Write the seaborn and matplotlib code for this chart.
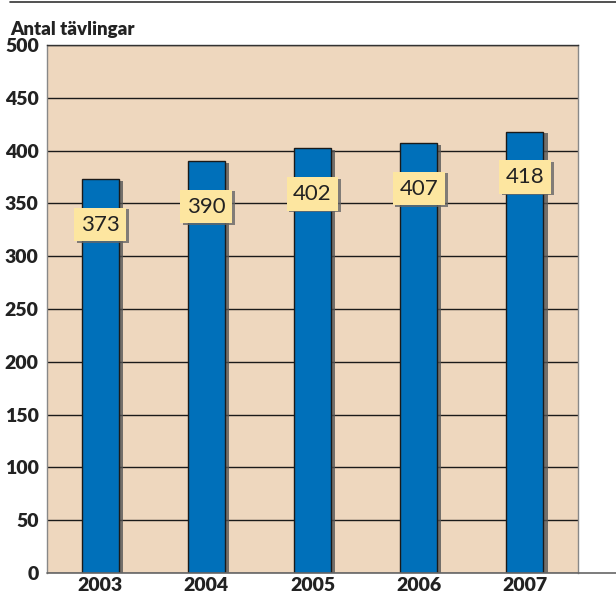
import matplotlib
matplotlib.use('Agg')
import matplotlib.pyplot as plt
import matplotlib.patheffects as pe
from matplotlib.lines import Line2D
from matplotlib.ticker import FixedLocator
import seaborn as sns
import pandas as pd

# data
years = ['2003', '2004', '2005', '2006', '2007']
counts = [373, 390, 402, 407, 418]
y_ticks = [0, 50, 100, 150, 200, 250, 300, 350, 400, 450, 500]

df = pd.DataFrame({'year': years, 'count': counts})

sns.set_style('white')
plt.rcParams['font.family'] = ['Lato', 'DejaVu Sans']

fig = plt.figure(figsize=(6.16, 5.96), dpi=100)
ax = fig.add_axes([47 / 616, 1 - 573 / 596, 531 / 616, 528 / 596])
ax.set_facecolor('#EED7BE')

sns.barplot(data=df, x='year', y='count', color='#0070BA', width=0.35,
            edgecolor='#1a1a1a', linewidth=1.0, saturation=1, ax=ax, zorder=3)

shadow = [pe.SimplePatchShadow(offset=(3, -1), shadow_rgbFace='#555555', alpha=0.8), pe.Normal()]
for bar in ax.patches:
    bar.set_path_effects(shadow)

# value labels in yellow boxes
for i, v in enumerate(counts):
    t = ax.text(i, v - 43, str(v), ha='center', va='center', fontsize=16, color='#222222',
                zorder=5, bbox=dict(boxstyle='square,pad=0.3', facecolor='#FDE6A0', edgecolor='none'))
    t.get_bbox_patch().set_path_effects([pe.SimplePatchShadow(offset=(2, -1), shadow_rgbFace='#666666', alpha=0.8), pe.Normal()])

ax.set_ylim(0, 500)
ax.set_xlim(-0.5, 4.5)
ax.set_yticks(y_ticks)
ax.set_yticklabels([str(t) for t in y_ticks], fontsize=14, fontweight='heavy', color='#222222')
ax.yaxis.grid(True, color='#1a1a1a', linewidth=1.0)
ax.set_axisbelow(True)
ax.tick_params(axis='y', length=3, width=1, pad=3, color='#333333')
ax.tick_params(axis='x', which='major', length=0, pad=3, labelsize=14)
for lbl in ax.get_xticklabels():
    lbl.set_fontweight('heavy')
    lbl.set_color('#222222')
ax.xaxis.set_minor_locator(FixedLocator([-0.5, 0.5, 1.5, 2.5, 3.5]))
ax.tick_params(axis='x', which='minor', length=5, width=1, color='#555555', direction='out')
ax.set_xlabel('')
ax.set_ylabel('')

for side in ['top', 'left', 'right']:
    ax.spines[side].set_color('#888888')
    ax.spines[side].set_linewidth(1.0)
ax.spines['top'].set_color('#333333')
ax.spines['bottom'].set_visible(False)

# bottom axis line running past the plot, and top rule
fig.add_artist(Line2D([47 / 616, 1.0], [1 - 573 / 596] * 2, color='#666666', linewidth=1.2))
fig.add_artist(Line2D([10 / 616, 1.0], [1 - 2 / 596] * 2, color='#333333', linewidth=1.2))

fig.text(10 / 616, 1 - 30 / 596, 'Antal tävlingar', fontsize=13.5, fontweight='heavy',
         color='#222222', va='center', ha='left')

fig.savefig('out.png', dpi=100)
